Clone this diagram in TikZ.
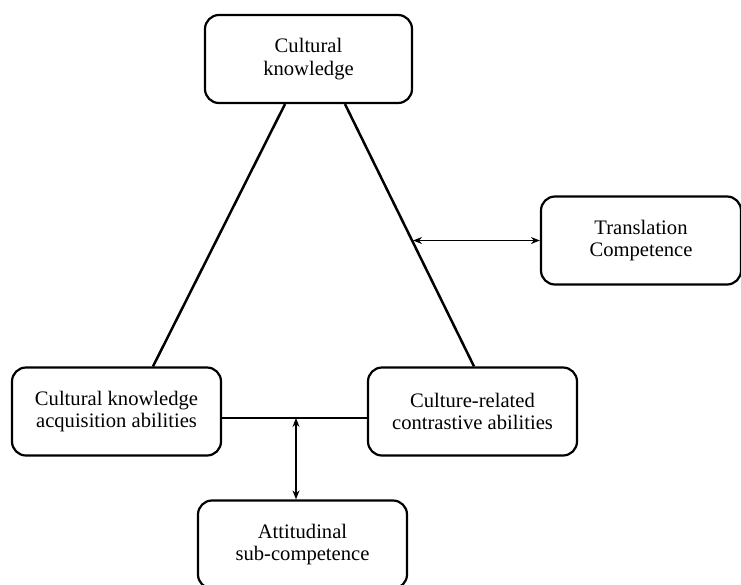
\documentclass[tikz,border=0pt]{standalone}
\usepackage{fontspec}
\setmainfont{Liberation Serif}
\usetikzlibrary{arrows.meta}
\begin{document}
\begin{tikzpicture}[x=1pt,y=-1pt,
  box/.style={draw,line width=2.2pt,rounded corners=14pt,align=center,
    minimum width=207pt,minimum height=88pt,inner sep=0pt,
    font=\fontsize{20.6}{22.5}\selectfont},
  thick line/.style={line width=2.5pt},
  dbl/.style={line width=1.3pt,{Stealth[length=9pt,width=7pt]}-{Stealth[length=9pt,width=7pt]}}]
\useasboundingbox (0,0) rectangle (741,584);
\node[box] (top) at (308.5,59) {Cultural\\knowledge};
\node[box,minimum width=200pt] (trans) at (641,240.5) {Translation\\Competence};
\node[box,minimum width=209pt] (left) at (116.5,411.5) {Cultural knowledge\\acquisition abilities};
\node[box,minimum width=209pt] (right) at (472.5,411.5) {Culture-related\\contrastive abilities};
\node[box,minimum width=209pt] (att) at (302.5,544.5) {Attitudinal\\sub-competence};
\draw[thick line] ([xshift=-23.5pt]top.south) -- ([xshift=36.5pt]left.north);
\draw[thick line] ([xshift=36.5pt]top.south) -- ([xshift=1.5pt]right.north);
\draw[thick line] ([yshift=-6.5pt]left.east) -- ([yshift=-6.5pt]right.west);
\coordinate (h) at (296,418);
\coordinate (d) at (413,240.5);
\draw[dbl] (h) -- (h |- att.north);
\draw[dbl] (d) -- (trans.west);
\end{tikzpicture}
\end{document}
